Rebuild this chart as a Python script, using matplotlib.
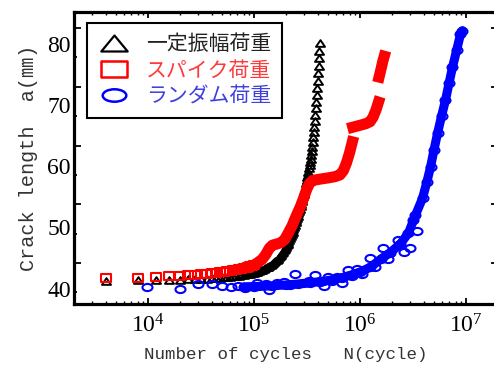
import numpy as np
import matplotlib
matplotlib.use('Agg')
import matplotlib.pyplot as plt
from matplotlib.path import Path
from matplotlib.lines import Line2D
from matplotlib.ticker import FixedLocator, NullFormatter

plt.rcParams['font.family'] = ['Liberation Serif', 'Noto Sans CJK JP']
plt.rcParams['mathtext.fontset'] = 'custom'
plt.rcParams['mathtext.rm'] = 'Liberation Serif'

# ---------------------------------------------------------------------------------------------------------------------
# crack length a (mm) against number of cycles N

# constant amplitude loading, recorded every 4000 cycles
cycles_ca = np.arange(1, 106) * 4000
crack_ca = [41.30, 41.34, 41.38, 41.42, 41.46, 41.50, 41.54, 41.58, 41.62, 41.66,
            41.72, 41.78, 41.84, 41.90, 41.96, 42.02, 42.08, 42.14, 42.20, 42.26,
            42.32, 42.39, 42.46, 42.53, 42.60,
            42.69, 42.79, 42.89, 43.00, 43.11, 43.23, 43.35, 43.48, 43.61, 43.75, 43.89, 44.04,
            44.20, 44.37, 44.55, 44.73, 44.92, 45.12, 45.33, 45.55, 45.78, 46.02, 46.27, 46.53, 46.80,
            47.08, 47.37, 47.67, 47.98, 48.30, 48.63, 48.97, 49.32, 49.68, 50.05, 50.43, 50.82,
            51.18, 51.55, 51.92, 52.30, 52.68, 53.07, 53.46, 53.86, 54.26, 54.67, 55.08, 55.50,
            55.93, 56.36, 56.80,
            57.25, 57.71, 58.18, 58.66, 59.15, 59.65,
            60.15, 60.67, 61.22, 61.82, 62.47, 63.17,
            63.92, 64.72, 65.57, 66.47, 67.42, 68.42, 69.47,
            70.57, 71.69, 72.84, 74.02, 75.22, 76.44, 77.68, 78.93, 80.18]

# spike loading: first 100k cycles point by point, then the dense record (nan = jump after a spike)
cycles_sp = np.arange(1, 26) * 4000
crack_sp = [41.70, 41.80, 41.90, 42.00, 42.09, 42.18, 42.27, 42.36, 42.45, 42.54,
            42.62, 42.70, 42.78, 42.86, 42.94, 43.02, 43.10, 43.18, 43.26, 43.35,
            43.44, 43.53, 43.62, 43.72, 43.82]
cycles_sp_dense = [1.0e5, 1.1e5, 1.2e5, 1.3e5, 1.4e5, 1.5e5, 1.65e5, 1.8e5, 1.95e5, 2.1e5,
                   2.3e5, 2.5e5, 2.75e5, 2.95e5, 3.15e5, 3.35e5, 3.6e5, 4.2e5, 5.0e5, 5.8e5,
                   6.5e5, 7.0e5, 7.5e5, 8.0e5, 8.5e5, 8.55e5,
                   8.6e5, 9.5e5, 1.05e6, 1.15e6, 1.25e6, 1.33e6, 1.42e6, 1.5e6, 1.51e6,
                   1.52e6, 1.58e6, 1.65e6, 1.7e6]
crack_sp_dense = [43.82, 44.3, 44.8, 45.6, 46.6, 47.1, 47.3, 47.5, 48.0, 49.0,
                  50.3, 51.8, 53.4, 54.8, 56.2, 57.2, 57.7, 57.9, 58.1, 58.3,
                  58.6, 59.3, 60.6, 62.2, 64.0, np.nan,
                  66.4, 66.6, 66.8, 67.0, 67.3, 68.0, 69.2, 70.5, np.nan,
                  74.6, 75.8, 77.2, 78.0]

# random loading: scattered early readings, then the dense record
cycles_rd = [9.9e3, 2.03e4, 3.0e4, 4.0e4, 4.96e4, 6.03e4, 7.02e4, 8.35e4, 9.94e4, 1.08e5,
             1.29e5, 1.38e5, 1.67e5, 1.91e5, 2.2e5, 2.47e5, 2.94e5, 3.3e5, 3.82e5, 4.2e5,
             4.55e5, 4.96e5, 5.5e5, 6.16e5, 6.8e5, 7.66e5, 8.5e5, 9.5e5, 1.05e6, 1.26e6,
             1.4e6, 1.67e6, 1.85e6, 2.27e6, 2.6e6, 3.0e6, 3.2e6, 3.5e6]
crack_rd = [40.3, 39.9, 40.75, 40.75, 40.4, 40.25, 40.4, 40.1, 40.25, 40.9,
            40.75, 39.8, 40.9, 41.1, 40.6, 42.4, 40.9, 41.3, 42.2, 41.0,
            40.5, 41.9, 41.2, 41.9, 40.9, 43.0, 42.0, 43.2, 42.4, 45.0,
            43.6, 46.6, 44.8, 47.9, 46.0, 46.6, 51.2, 49.5]
cycles_rd_dense = [8.0e4, 1.1e5, 1.5e5, 2.0e5, 2.6e5, 3.4e5, 4.5e5, 5.5e5, 6.8e5, 8.2e5,
                   1.0e6, 1.26e6, 1.6e6, 1.94e6, 2.41e6, 2.88e6, 3.35e6, 3.91e6, 4.3e6, 4.65e6,
                   5.0e6, 5.41e6, 5.9e6, 6.43e6, 6.95e6, 7.49e6, 8.2e6, 8.91e6, 9.3e6]
crack_rd_dense = [40.3, 40.35, 40.45, 40.6, 40.75, 40.95, 41.2, 41.45, 41.8, 42.2,
                  42.7, 43.5, 44.9, 45.9, 47.3, 49.1, 52.0, 54.8, 57.5, 59.9,
                  62.6, 65.4, 68.2, 70.8, 73.6, 76.2, 79.0, 81.6, 82.2]

labels = ['一定振幅荷重', 'スパイク荷重', 'ランダム荷重']
y_labels = [40, 50, 60, 70, 80]
x_labels = [1e4, 1e5, 1e6, 1e7]

# ---------------------------------------------------------------------------------------------------------------------

def box_marker(w, h):
    return Path([(-w, -h), (w, -h), (w, h), (-w, h), (-w, -h)],
                [Path.MOVETO, Path.LINETO, Path.LINETO, Path.LINETO, Path.CLOSEPOLY])

def tri_marker(w, h):
    return Path([(-w, -h), (w, -h), (0, h), (-w, -h)],
                [Path.MOVETO, Path.LINETO, Path.LINETO, Path.CLOSEPOLY])

def oval_marker(w, h):
    c = Path.unit_circle()
    return Path(c.vertices * [w, h], c.codes)


fig = plt.figure(figsize=(4.94, 3.67), dpi=100)
ax = fig.add_axes([0.1492, 0.1708, 0.8583, 0.7965])

oval = oval_marker(1.4, 1)

ax.plot(cycles_ca, crack_ca, ls='none', marker=tri_marker(1.35, 1), ms=6.5,
        mec='black', mfc='none', mew=1.4)
ax.plot(cycles_sp_dense, crack_sp_dense, color='red', lw=8, solid_capstyle='projecting')
ax.plot(cycles_sp, crack_sp, ls='none', marker=box_marker(1.25, 1), ms=7.2,
        mec='red', mfc='none', mew=1.5)
ax.plot(cycles_rd_dense, crack_rd_dense, color='blue', lw=6.5, solid_capstyle='round',
        marker=oval, ms=7.2, mec='blue', mfc='none', mew=1.5)
ax.plot(cycles_rd, crack_rd, ls='none', marker=oval, ms=7.2,
        mec='blue', mfc='none', mew=1.5)

ax.set_xscale('log')
ax.set_xlim(2e3, 2e7)
ax.set_ylim(37.43, 85.24)

ax.set_xticks(x_labels, [r'$\mathrm{10^{%d}}$' % np.log10(v) for v in x_labels])
ax.set_yticks(y_labels, [str(v) for v in y_labels])
ax.tick_params(axis='y', which='both', length=0, pad=2, labelsize=17)
ax.tick_params(axis='x', which='major', direction='in', length=4, width=1.3,
               top=True, pad=7, labelsize=17)
ax.tick_params(axis='x', which='minor', direction='in', length=2, width=1.0, top=True)

# y tick marks sit on their own grid, separate from the labels
long_marks = np.arange(44.2, 85, 9.6)
short_marks = np.arange(39.4, 85, 9.6)
for side in ('left', 'right'):
    sec = ax.secondary_yaxis(side)
    sec.set_ticks(long_marks)
    sec.yaxis.set_minor_locator(FixedLocator(short_marks))
    sec.yaxis.set_major_formatter(NullFormatter())
    sec.tick_params(which='major', direction='in', length=5, width=1.3)
    sec.tick_params(which='minor', direction='in', length=2, width=1.3)
    sec.spines[side].set_visible(False)

for s in ax.spines.values():
    s.set_linewidth(2.3)

mono = ['Liberation Mono', 'Noto Sans CJK JP']
ax.set_xlabel('Number of cycles   N(cycle)', family=mono, fontsize=12.6,
              color='#333333', labelpad=7)
ax.set_ylabel('Crack length  a(㎜)', family=mono, fontsize=14.5,
              color='#333333', labelpad=7)

handles = [Line2D([], [], ls='none', marker=tri_marker(1.65, 1), ms=19,
                  mec='black', mfc='none', mew=1.6),
           Line2D([], [], ls='none', marker=box_marker(1.7, 1), ms=18.5,
                  mec='red', mfc='none', mew=1.8),
           Line2D([], [], ls='none', marker=oval_marker(1.9, 1), ms=17,
                  mec='blue', mfc='none', mew=1.8)]
leg = ax.legend(handles, labels, loc='upper left', bbox_to_anchor=(0.0307, 0.9623),
                borderaxespad=0, fancybox=False, edgecolor='black', framealpha=1,
                handlelength=1.6, handletextpad=0.74, borderpad=0.5, labelspacing=0.2,
                prop={'family': ['Noto Sans CJK JP'], 'size': 15})
leg.get_frame().set_linewidth(1.5)
for text, col in zip(leg.get_texts(), ['#222222', '#ff3a3a', '#4040e0']):
    text.set_color(col)

fig.savefig('out.png', dpi=100)
